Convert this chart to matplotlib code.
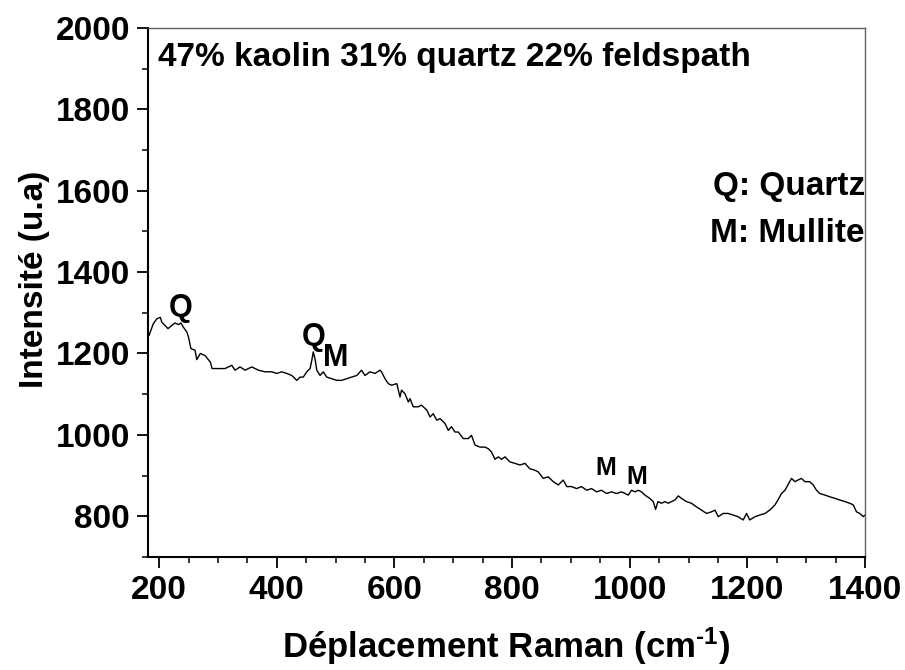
import matplotlib
matplotlib.use("Agg")
import matplotlib.pyplot as plt
from matplotlib.ticker import MultipleLocator

plt.rcParams['font.family'] = ['Liberation Sans', 'DejaVu Sans']
plt.rcParams['font.weight'] = 'bold'
plt.rcParams['mathtext.fontset'] = 'custom'
plt.rcParams['mathtext.rm'] = 'Liberation Sans:bold'
plt.rcParams['mathtext.bf'] = 'Liberation Sans:bold'
plt.rcParams['mathtext.default'] = 'rm'

# Raman shift (cm-1) and intensity (a.u.)
shift = [183, 190, 196, 202, 204.5, 210, 215, 221.5, 227, 233, 237, 241, 247, 250,
         254, 261, 264, 270, 278, 287, 290, 301, 312, 323.5, 329, 337.6, 346, 357.5,
         368.7, 380, 391.5, 400, 408.5, 417, 425.5, 434, 439.6, 445, 451, 456.6,
         459.5, 462, 465, 468, 473.6, 479, 485, 493.5, 502, 510, 519, 527, 536,
         544, 550, 558.5, 567, 575.5, 578, 584, 589.6, 595, 604, 609.5, 612, 618,
         623.6, 626.5, 632, 640.6, 646, 655, 660.6, 666, 672, 677.5, 686, 691.6,
         697, 703, 708.6, 717, 725.6, 731, 737, 745.5, 754, 759.6, 765, 771, 776.6,
         782, 788, 796, 805, 813.5, 822, 830, 839, 844.5, 853, 861.5, 870, 878.5,
         887, 893, 901, 909.7, 918, 927, 935, 944, 952, 960.7, 969, 977.7, 986,
         992, 997.5, 1003, 1009, 1014.5, 1020, 1026, 1034, 1040, 1044, 1048, 1054,
         1060, 1065.5, 1071, 1077, 1082.6, 1088, 1096.6, 1105, 1113.6, 1122,
         1130.7, 1139, 1145, 1150.5, 1159, 1167, 1176, 1184, 1193, 1198.6, 1204,
         1213, 1221, 1230, 1238, 1247, 1252, 1258, 1264, 1269, 1275, 1281, 1286,
         1292, 1298, 1306, 1312, 1317.5, 1323, 1332, 1340, 1349, 1357, 1366, 1374,
         1380, 1385.5, 1391, 1397, 1400]
intensity = [1245, 1273, 1285, 1289, 1277, 1269, 1261, 1269, 1275, 1271, 1275, 1265,
             1253, 1240, 1212, 1208, 1185, 1200, 1195, 1179, 1163, 1163, 1163, 1171,
             1159, 1167, 1159, 1167, 1159, 1155, 1155, 1151, 1155, 1151, 1146, 1134,
             1142, 1142, 1155, 1163, 1183, 1204, 1187, 1159, 1146, 1155, 1142, 1138,
             1134, 1134, 1138, 1142, 1146, 1159, 1146, 1155, 1151, 1159, 1155, 1138,
             1126, 1122, 1126, 1093, 1110, 1101, 1081, 1089, 1069, 1069, 1073, 1061,
             1044, 1052, 1036, 1040, 1028, 1011, 1020, 1007, 1007, 991, 991, 999, 975,
             970, 970, 966, 958, 940, 946, 940, 946, 934, 930, 926, 930, 917, 913,
             909, 893, 897, 885, 877, 889, 873, 873, 868, 873, 864, 868, 860, 864,
             856, 860, 856, 860, 856, 852, 864, 860, 864, 860, 852, 844, 836, 817,
             836, 832, 836, 832, 836, 840, 850, 844, 836, 832, 823, 815, 807, 811,
             815, 799, 807, 807, 803, 799, 791, 807, 791, 799, 803, 807, 815, 828,
             840, 856, 864, 877, 893, 885, 889, 893, 885, 885, 877, 864, 856, 852,
             848, 844, 840, 836, 832, 828, 811, 807, 799, 803]

# Peak assignments: label, position and font size
peak_labels = ["Q", "Q", "M", "M", "M"]
peak_x = [236, 462, 500, 960, 1012]
peak_y = [1311, 1240, 1188, 918, 896]
peak_size = [22, 22, 22, 18, 18]

title_text = "47% kaolin 31% quartz 22% feldspath"
legend_lines = ["Q: Quartz", "M: Mullite"]

fig = plt.figure(figsize=(9.05, 6.7), dpi=100)
ax = fig.add_axes([0.1635, 0.1687, 0.7923, 0.7896])

ax.plot(shift, intensity, color='black', linewidth=1.0)

ax.set_xlim(181, 1400)
ax.set_ylim(700, 2000)
ax.xaxis.set_major_locator(MultipleLocator(200))
ax.xaxis.set_minor_locator(MultipleLocator(50))
ax.yaxis.set_major_locator(MultipleLocator(200))
ax.yaxis.set_minor_locator(MultipleLocator(100))
ax.set_yticks([800, 1000, 1200, 1400, 1600, 1800, 2000])

ax.tick_params(which='major', direction='out', length=8, width=1.3,
               labelsize=24, pad=5, top=False, right=False)
ax.tick_params(which='minor', direction='out', length=4, width=1.1,
               top=False, right=False)
for lab in ax.get_xticklabels() + ax.get_yticklabels():
    lab.set_fontweight('bold')

for side in ['left', 'bottom']:
    ax.spines[side].set_linewidth(1.5)
    ax.spines[side].set_color('black')
for side in ['top', 'right']:
    ax.spines[side].set_linewidth(1.0)
    ax.spines[side].set_color('#606060')

ax.set_xlabel(r'Déplacement Raman (cm$^{\text{-}1}$)', fontsize=25,
              fontweight='bold', labelpad=14)
ax.set_ylabel('Intensité (u.a)', fontsize=24, fontweight='bold')
ax.yaxis.set_label_coords(-0.137, 0.524)

for lab, x, y, s in zip(peak_labels, peak_x, peak_y, peak_size):
    ax.text(x, y, lab, fontsize=s, fontweight='bold', ha='center', va='center')

ax.text(0.014, 0.945, title_text, transform=ax.transAxes, fontsize=24,
        fontweight='bold', ha='left', va='center')
ax.text(1.0, 0.70, legend_lines[0], transform=ax.transAxes, fontsize=24,
        fontweight='bold', ha='right', va='center')
ax.text(1.0, 0.612, legend_lines[1], transform=ax.transAxes, fontsize=24,
        fontweight='bold', ha='right', va='center')

fig.savefig('out.png', dpi=100)
